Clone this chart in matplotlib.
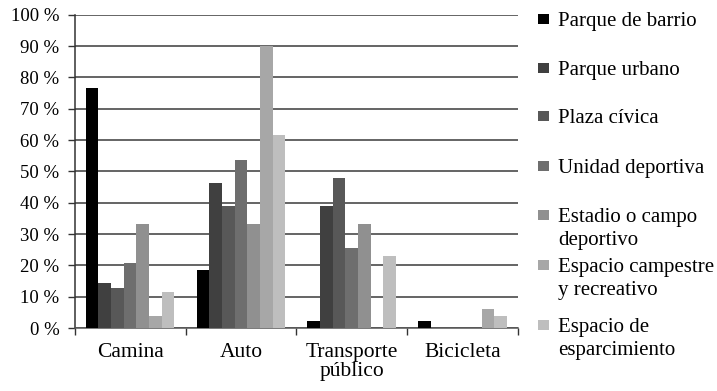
import matplotlib
matplotlib.use("Agg")
import matplotlib.pyplot as plt
from matplotlib.patches import Rectangle
import numpy as np

plt.rcParams['font.family'] = ['Liberation Serif', 'DejaVu Serif']

categories = ["Camina", "Auto", "Transporte\npúblico", "Bicicleta"]
series_names = [
    "Parque de barrio",
    "Parque urbano",
    "Plaza cívica",
    "Unidad deportiva",
    "Estadio o campo\ndeportivo",
    "Espacio campestre\ny recreativo",
    "Espacio de\nesparcimiento",
]
# percentage per category (Camina, Auto, Transporte público, Bicicleta)
parque_barrio = [76.5, 18.4, 2.3, 2.3]
parque_urbano = [14.3, 46.3, 39.1, 0.0]
plaza_civica = [12.9, 39.1, 47.8, 0.0]
unidad_deportiva = [20.8, 53.6, 25.5, 0.0]
estadio = [33.3, 33.3, 33.3, 0.0]
espacio_campestre = [3.9, 90.1, 0.0, 6.0]
espacio_esparcimiento = [11.5, 61.5, 23.1, 3.8]
y_ticks = [0, 10, 20, 30, 40, 50, 60, 70, 80, 90, 100]
y_tick_labels = [f"{v} %" for v in y_ticks]

series = [parque_barrio, parque_urbano, plaza_civica, unidad_deportiva,
          estadio, espacio_campestre, espacio_esparcimiento]
colors = ["#000000", "#404040", "#585858", "#6e6e6e", "#909090", "#a7a7a7", "#bebebe"]

W, H = 717, 391
fig = plt.figure(figsize=(W / 100, H / 100), dpi=100)
ax = fig.add_axes([0.1042, 0.1611, 0.6183, 0.8013])

n = len(series)
bar_w = 0.8 / n
x = np.arange(len(categories))
for i, (vals, c) in enumerate(zip(series, colors)):
    offs = -0.4 + bar_w * (i + 0.5)
    ax.bar(x + offs, vals, width=bar_w, color=c, edgecolor='none', zorder=3)

ax.set_xlim(-0.5, len(categories) - 0.5)
ax.set_ylim(0, 100)
ax.set_yticks(y_ticks)
ax.set_yticklabels(y_tick_labels, fontsize=13.5)
ax.yaxis.grid(True, color="#3a3a3a", linewidth=1.1, zorder=0)
ax.set_axisbelow(True)

ax.set_xticks(np.arange(-0.5, len(categories), 1.0))
ax.set_xticklabels([])
ax.set_xticks(x, minor=True)
ax.set_xticklabels(categories, minor=True, fontsize=15.5, linespacing=0.95)
ax.tick_params(axis='x', which='minor', length=0, pad=11)
ax.tick_params(axis='x', which='major', length=5, width=1, color="#333333", direction='out')
ax.tick_params(axis='y', length=5, width=1, color="#333333", direction='out', pad=6)

for side in ['top', 'right']:
    ax.spines[side].set_visible(False)
ax.spines['left'].set_color("#333333")
ax.spines['left'].set_linewidth(1.1)
ax.spines['bottom'].set_color("#555555")
ax.spines['bottom'].set_linewidth(1.1)

# legend: square key plus label lines, positioned by baseline (pixels from top)
legend_baselines = [26, 75, 123, 173, 222, 272, 332]
line_step = 23
for name, c, yb in zip(series_names, colors, legend_baselines):
    fig.patches.append(Rectangle((538 / W, 1 - (yb - 2) / H), 10.5 / W, 10.5 / H,
                                 transform=fig.transFigure, facecolor=c,
                                 edgecolor='none'))
    for k, line in enumerate(name.split("\n")):
        fig.text(558 / W, 1 - (yb + k * line_step) / H, line, fontsize=15,
                 va='baseline', ha='left')

fig.savefig("out.png", dpi=100)
